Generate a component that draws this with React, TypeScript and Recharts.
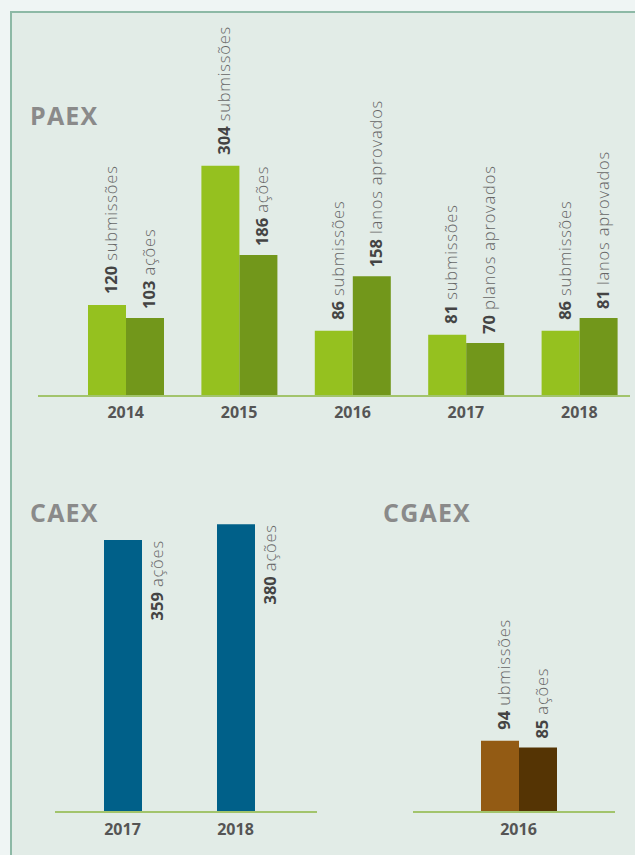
import React from "react";
import { BarChart, Bar, XAxis, YAxis, LabelList } from "recharts";

// PAEX
const paexYears = ["2014", "2015", "2016", "2017", "2018"];
const paexSubmissions = [120, 304, 86, 81, 86];
// bar heights as drawn in the source (the 2018 bar is drawn taller than its printed value)
const paexApproved = [103, 186, 158, 70, 103];
const paexApprovedText = ["103", "186", "158", "70", "81"];
const paexSubWords = ["submissões", "submissões", "submissões", "submissões", "submissões"];
const paexAppWords = ["ações", "ações", "lanos aprovados", "planos aprovados", "lanos aprovados"];

// CAEX
const caexYears = ["2017", "2018"];
const caexActions = [359, 380];
const caexWords = ["ações", "ações"];

// CGAEX
const cgaexYears = ["2016"];
const cgaexSubmissions = [94];
const cgaexActions = [85];
const cgaexSubWords = ["ubmissões"];
const cgaexActWords = ["ações"];

const FONT = "'Open Sans', 'DejaVu Sans', sans-serif";
const AXIS = { stroke: "#a2c46c", strokeWidth: 2 };
const TICK = { fill: "#555", fontWeight: 700, fontSize: 16, fontFamily: FONT };

const paexData = paexYears.map((year, i) => ({ year, sub: paexSubmissions[i], app: paexApproved[i] }));
const caexData = caexYears.map((year, i) => ({ year, act: caexActions[i] }));
const cgaexData = cgaexYears.map((year, i) => ({ year, sub: cgaexSubmissions[i], act: cgaexActions[i] }));

// rotated label sitting above the bar
const upLabel = (words: string[], gap: number, shift: number, texts?: string[]) => (p: any) => {
  const cx = Number(p.x) + Number(p.width) / 2 + shift;
  const ty = Number(p.y) - gap;
  return (
    <text x={cx} y={ty} transform={`rotate(-90 ${cx} ${ty})`} fontFamily={FONT} fontSize={16.5} textAnchor="start">
      <tspan fontWeight={700} fill="#444">{texts ? texts[p.index] : p.value}</tspan>
      <tspan fill="#666" fontWeight={300} letterSpacing={0.8}>{" " + words[p.index]}</tspan>
    </text>
  );
};

// rotated label to the right of the bar, ending at its top
const sideLabel = (words: string[], shift: number) => (p: any) => {
  const cx = Number(p.x) + Number(p.width) / 2 + shift;
  const ty = Number(p.y);
  return (
    <text x={cx} y={ty} transform={`rotate(-90 ${cx} ${ty})`} fontFamily={FONT} fontSize={16.5} textAnchor="end">
      <tspan fontWeight={700} fill="#444">{p.value}</tspan>
      <tspan fill="#666" fontWeight={300} letterSpacing={0.8}>{" " + words[p.index]}</tspan>
    </text>
  );
};

const titleStyle = { fontFamily: FONT, fontWeight: 700, fontSize: 25, fill: "#8a8a8a", letterSpacing: 1.2 };

export default function App() {
  return (
    <div style={{ position: "absolute", left: 0, top: 0, width: 635, height: 855, background: "#eff5f4", overflow: "hidden" }}>
      <div
        style={{
          position: "absolute",
          left: 10,
          top: 11,
          width: 640,
          height: 860,
          background: "#e2ece7",
          borderLeft: "2px solid #8db9a6",
          borderTop: "2px solid #8db9a6",
        }}
      />
      <svg width={635} height={855} style={{ position: "absolute", left: 0, top: 0 }}>
        <text x={30} y={125} {...titleStyle}>PAEX</text>
        <text x={30} y={522} {...titleStyle}>CAEX</text>
        <text x={383} y={522} {...titleStyle}>CGAEX</text>
      </svg>

      <div style={{ position: "absolute", left: 0, top: 0 }}>
        <BarChart width={635} height={440} data={paexData} barGap={0} margin={{ top: 93, right: 5, bottom: 14, left: 38 }}>
          <XAxis
            dataKey="year"
            height={30}
            axisLine={AXIS}
            tickLine={false}
            tickSize={0}
            tickMargin={11}
            tick={TICK}
            padding={{ left: 31, right: -6 }}
          />
          <YAxis hide domain={[0, 400]} />
          <Bar dataKey="sub" fill="#95c11f" barSize={38} isAnimationActive={false}>
            <LabelList dataKey="sub" content={upLabel(paexSubWords, 11, 10)} />
          </Bar>
          <Bar dataKey="app" fill="#72971b" barSize={38} isAnimationActive={false}>
            <LabelList dataKey="app" content={upLabel(paexAppWords, 9, 10, paexApprovedText)} />
          </Bar>
        </BarChart>
      </div>

      <div style={{ position: "absolute", left: 0, top: 460 }}>
        <BarChart width={330} height={400} data={caexData} margin={{ top: 49, right: 13, bottom: 18, left: 55 }}>
          <XAxis
            dataKey="year"
            height={30}
            axisLine={AXIS}
            tickLine={false}
            tickSize={0}
            tickMargin={12}
            tick={TICK}
            padding={{ left: 11, right: 25 }}
          />
          <YAxis hide domain={[0, 400]} />
          <Bar dataKey="act" fill="#006089" barSize={38} isAnimationActive={false}>
            <LabelList dataKey="act" content={sideLabel(caexWords, 40)} />
          </Bar>
        </BarChart>
      </div>

      <div style={{ position: "absolute", left: 330, top: 460 }}>
        <BarChart width={305} height={400} data={cgaexData} barGap={0} margin={{ top: 49, right: 20, bottom: 18, left: 83 }}>
          <XAxis
            dataKey="year"
            height={30}
            axisLine={AXIS}
            tickLine={false}
            tickSize={0}
            tickMargin={12}
            tick={TICK}
            padding={{ left: 9, right: 0 }}
          />
          <YAxis hide domain={[0, 400]} />
          <Bar dataKey="sub" fill="#935b14" barSize={38} isAnimationActive={false}>
            <LabelList dataKey="sub" content={upLabel(cgaexSubWords, 11, 10)} />
          </Bar>
          <Bar dataKey="act" fill="#553404" barSize={38} isAnimationActive={false}>
            <LabelList dataKey="act" content={upLabel(cgaexActWords, 9, 10)} />
          </Bar>
        </BarChart>
      </div>
    </div>
  );
}
